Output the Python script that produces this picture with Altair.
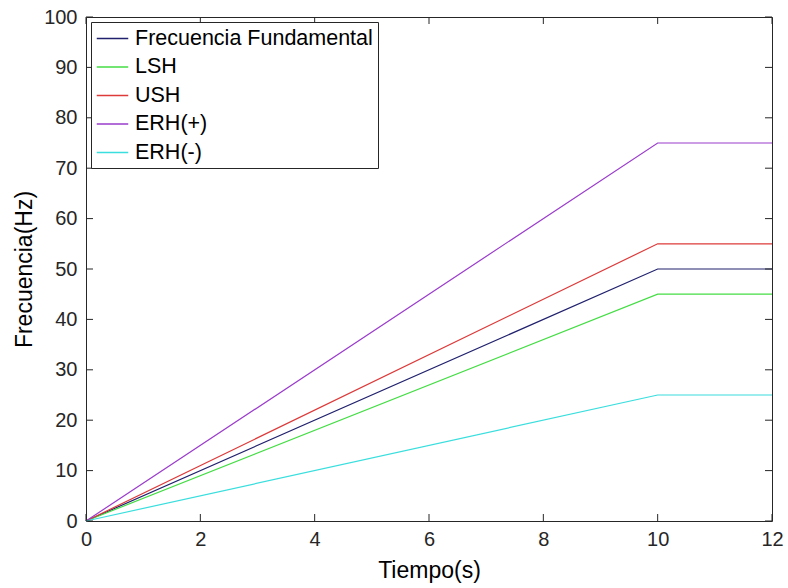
import altair as alt
import pandas as pd

# Data
tiempo = [0, 10, 12]
series_names = ["Frecuencia Fundamental", "LSH", "USH", "ERH(+)", "ERH(-)"]
fundamental = [0, 50, 50]
lsh = [0, 45, 45]
ush = [0, 55, 55]
erh_pos = [0, 75, 75]
erh_neg = [0, 25, 25]
colors = ["#20206e", "#44dd44", "#dd3a3a", "#9a3ccc", "#3adede"]
x_ticks = [0, 2, 4, 6, 8, 10, 12]
y_ticks = [0, 10, 20, 30, 40, 50, 60, 70, 80, 90, 100]

rows = []
for name, vals in zip(series_names, [fundamental, lsh, ush, erh_pos, erh_neg]):
    for t, v in zip(tiempo, vals):
        rows.append({"Tiempo": t, "Frecuencia": v, "Serie": name})
df = pd.DataFrame(rows)

W, H = 686, 504
FONT = "Liberation Sans"
TICK = 7

xscale = alt.Scale(domain=[0, 12], nice=False, zero=False)
yscale = alt.Scale(domain=[0, 100], nice=False, zero=False)

lines = alt.Chart(df).mark_line(strokeWidth=1.2).encode(
    x=alt.X("Tiempo:Q", scale=xscale,
            axis=alt.Axis(values=x_ticks, title="Tiempo(s)", grid=False, domain=False,
                          tickSize=0, labelPadding=8, titlePadding=10, format="d",
                          labelFlush=False)),
    y=alt.Y("Frecuencia:Q", scale=yscale,
            axis=alt.Axis(values=y_ticks, title="Frecuencia(Hz)", grid=False, domain=False,
                          tickSize=0, labelPadding=9, titlePadding=7, format="d",
                          labelFlush=False)),
    color=alt.Color("Serie:N",
                    scale=alt.Scale(domain=series_names, range=colors),
                    sort=series_names,
                    legend=alt.Legend(title=None, orient="top-left", offset=5,
                                      strokeColor="#262626", fillColor="white",
                                      padding=5, labelFontSize=21.5, labelFont=FONT,
                                      labelColor="#000000", symbolType="M-1.5,0H1.5",
                                      symbolSize=441, symbolStrokeWidth=1.5,
                                      symbolOffset=5, symbolFillColor="transparent",
                                      labelOffset=11, rowPadding=6.5, labelLimit=400)),
    order=alt.value(0),
)

xt = pd.DataFrame({"x": x_ticks})
yt = pd.DataFrame({"y": y_ticks})

bottom_ticks = alt.Chart(xt).mark_rule(color="#262626", strokeWidth=1).encode(
    x=alt.X("x:Q", scale=xscale), y=alt.value(H), y2=alt.value(H - TICK))
top_ticks = alt.Chart(xt).mark_rule(color="#262626", strokeWidth=1).encode(
    x=alt.X("x:Q", scale=xscale), y=alt.value(0), y2=alt.value(TICK))
left_ticks = alt.Chart(yt).mark_rule(color="#262626", strokeWidth=1).encode(
    y=alt.Y("y:Q", scale=yscale), x=alt.value(0), x2=alt.value(TICK))
right_ticks = alt.Chart(yt).mark_rule(color="#262626", strokeWidth=1).encode(
    y=alt.Y("y:Q", scale=yscale), x=alt.value(W), x2=alt.value(W - TICK))

chart = alt.layer(lines, bottom_ticks, top_ticks, left_ticks, right_ticks).properties(
    width=W, height=H,
    background="white",
    autosize=alt.AutoSizeParams(type="none"),
    padding={"left": 86, "top": 17, "right": 16, "bottom": 67},
).configure_view(
    stroke="#262626", strokeWidth=1
).configure_axis(
    labelFont=FONT, labelFontSize=20, labelColor="#262626",
    titleFont=FONT, titleFontSize=23, titleColor="#000000", titleFontWeight="normal",
)

chart.save("out.html", embed_options={"renderer": "svg", "actions": False})
